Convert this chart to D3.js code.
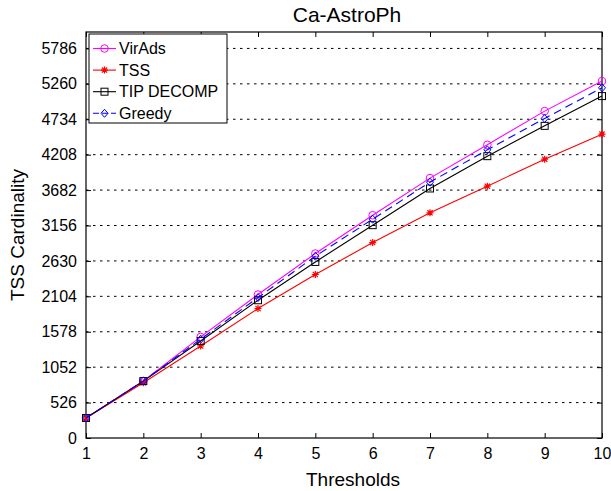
<!DOCTYPE html>
<html>
<head>
<meta charset="utf-8">
<script src="https://cdn.jsdelivr.net/npm/d3@7"></script>
<style>
body { margin: 0; background: #fff; }
text { font-family: "Liberation Sans", Arial, sans-serif; fill: #000; }
</style>
</head>
<body>
<svg id="chart" width="611" height="491"></svg>
<script>
// data
var thresholds = [1, 2, 3, 4, 5, 6, 7, 8, 9, 10];
var virAds    = [297, 847, 1501, 2131, 2740, 3309, 3860, 4355, 4855, 5301];
var tss       = [297, 820, 1367, 1923, 2428, 2903, 3344, 3740, 4141, 4513];
var tipDecomp = [297, 845, 1441, 2046, 2615, 3161, 3706, 4186, 4636, 5078];
var greedy    = [297, 847, 1467, 2086, 2700, 3250, 3800, 4280, 4746, 5201];
var yTicks = [0, 526, 1052, 1578, 2104, 2630, 3156, 3682, 4208, 4734, 5260, 5786];
var seriesNames = ["VirAds", "TSS", "TIP DECOMP", "Greedy"];

var margin = {top: 32, right: 9, bottom: 53, left: 86};
var W = 611, H = 491;
var w = W - margin.left - margin.right;
var h = H - margin.top - margin.bottom;

var svg = d3.select("#chart");
var g = svg.append("g").attr("transform", "translate(" + margin.left + "," + margin.top + ")");

var x = d3.scaleLinear().domain([1, 10]).range([0, w]);
var y = d3.scaleLinear().domain([0, 6030]).range([h, 0]);

// dotted grid (horizontal only)
g.selectAll(".grid").data(yTicks.slice(1)).enter().append("line")
  .attr("x1", 0).attr("x2", w)
  .attr("y1", function(d){ return y(d); }).attr("y2", function(d){ return y(d); })
  .attr("stroke", "#000").attr("stroke-width", 1).attr("stroke-dasharray", "2.5,4.5");

// axes, matlab style (ticks inside, box around)
var xAxis = d3.axisBottom(x).tickValues(thresholds).tickFormat(d3.format("d")).tickSizeInner(-5).tickSizeOuter(0).tickPadding(10);
var yAxis = d3.axisLeft(y).tickValues(yTicks).tickFormat(d3.format("d")).tickSizeInner(-5).tickSizeOuter(0).tickPadding(9);
var xTop = d3.axisTop(x).tickValues(thresholds).tickSizeInner(-5).tickSizeOuter(0).tickFormat("");
var yRight = d3.axisRight(y).tickValues(yTicks).tickSizeInner(-5).tickSizeOuter(0).tickFormat("");

var gx = g.append("g").attr("transform", "translate(0," + h + ")").call(xAxis);
var gy = g.append("g").call(yAxis);
g.append("g").call(xTop);
g.append("g").attr("transform", "translate(" + w + ",0)").call(yRight);
g.selectAll(".domain").remove();
g.selectAll(".tick line").attr("stroke", "#000");
gx.selectAll("text").attr("font-size", "16px").attr("font-family", "Liberation Sans, Arial, sans-serif");
gy.selectAll("text").attr("font-size", "16px").attr("font-family", "Liberation Sans, Arial, sans-serif");

g.append("rect").attr("x", 0).attr("y", 0).attr("width", w).attr("height", h)
  .attr("fill", "none").attr("stroke", "#000").attr("stroke-width", 1.2);

// series
var line = d3.line().x(function(d, i){ return x(thresholds[i]); }).y(function(d){ return y(d); });

function marker(sel, type, color) {
  if (type == "circle") {
    sel.append("circle").attr("r", 3.8).attr("fill", "none").attr("stroke", color);
  } else if (type == "square") {
    sel.append("rect").attr("x", -3.5).attr("y", -3.5).attr("width", 7).attr("height", 7)
      .attr("fill", "none").attr("stroke", color);
  } else if (type == "diamond") {
    sel.append("path").attr("d", "M0,-4L3.5,0L0,4L-3.5,0Z").attr("fill", "none").attr("stroke", color);
  } else if (type == "star") {
    sel.append("path").attr("d", "M-3.5,0H3.5M0,-3.5V3.5M-2.6,-2.6L2.6,2.6M-2.6,2.6L2.6,-2.6")
      .attr("fill", "none").attr("stroke", color).attr("stroke-width", 1.2);
  }
}

var series = [
  {name: seriesNames[0], vals: virAds, color: "#ff00ff", mk: "circle", dash: null},
  {name: seriesNames[1], vals: tss, color: "#ff0000", mk: "star", dash: null},
  {name: seriesNames[2], vals: tipDecomp, color: "#000000", mk: "square", dash: null},
  {name: seriesNames[3], vals: greedy, color: "#0000ff", mk: "diamond", dash: "8,5"}
];

series.forEach(function(s) {
  g.append("path").datum(s.vals).attr("d", line)
    .attr("fill", "none").attr("stroke", s.color).attr("stroke-width", 1.1)
    .attr("stroke-dasharray", s.dash);
  g.selectAll(null).data(s.vals).enter().append("g")
    .attr("transform", function(d, i){ return "translate(" + x(thresholds[i]) + "," + y(d) + ")"; })
    .each(function(){ marker(d3.select(this), s.mk, s.color); });
});

// legend
var lg = g.append("g").attr("transform", "translate(3,2)");
lg.append("rect").attr("x", 0).attr("y", 0).attr("width", 138).attr("height", 89)
  .attr("fill", "#fff").attr("stroke", "#000").attr("stroke-width", 1);
series.forEach(function(s, i) {
  var ly = 14.5 + i * 21.6;
  var e = lg.append("g").attr("transform", "translate(0," + ly + ")");
  e.append("line").attr("x1", 4).attr("x2", 27).attr("y1", 0).attr("y2", 0)
    .attr("stroke", s.color).attr("stroke-width", 1.1).attr("stroke-dasharray", s.dash ? "6,3" : null);
  var m = e.append("g").attr("transform", "translate(15.5,0)");
  marker(m, s.mk, s.color);
  e.append("text").attr("x", 30).attr("y", 5.5).attr("font-size", "16px").text(s.name);
});

// titles
svg.append("text").attr("x", margin.left + w / 2 + 3).attr("y", 22).attr("text-anchor", "middle")
  .attr("font-size", "21px").text("Ca-AstroPh");
svg.append("text").attr("x", margin.left + w / 2 + 9).attr("y", 486).attr("text-anchor", "middle")
  .attr("font-size", "19px").text("Thresholds");
svg.append("text").attr("transform", "translate(24," + (margin.top + h / 2) + ") rotate(-90)")
  .attr("text-anchor", "middle").attr("font-size", "19px").text("TSS Cardinality");
</script>
</body>
</html>
